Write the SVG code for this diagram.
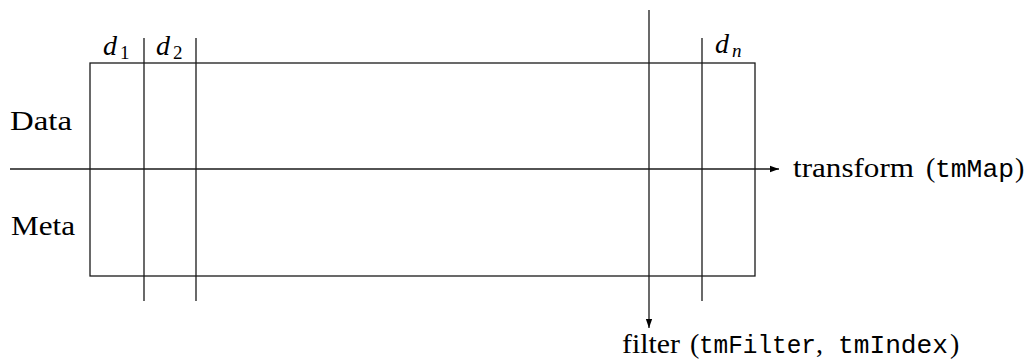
<svg xmlns="http://www.w3.org/2000/svg" width="1024" height="360" viewBox="0 0 1024 360">
<style>
.ln{stroke:#1a1a1a;stroke-width:1.3;fill:none}
.t{font-family:"Liberation Serif","DejaVu Serif",serif;font-size:28px;fill:#000}
.m{font-family:"Liberation Mono","DejaVu Sans Mono",monospace;font-size:26.5px}
.i{font-style:italic}
.s{font-size:19px}
</style>
<defs>
<marker id="ah" viewBox="0 0 10 10" refX="10" refY="5" markerWidth="9" markerHeight="9" markerUnits="userSpaceOnUse" orient="auto">
<path d="M0,1.5 L10,5 L0,8.5 Z" fill="#000"/>
</marker>
</defs>
<g id="table">
<rect class="ln" x="90" y="63" width="665" height="213"/>
<text class="t" x="10" y="130" textLength="62" lengthAdjust="spacingAndGlyphs">Data</text>
<text class="t" x="11" y="235" textLength="64" lengthAdjust="spacingAndGlyphs">Meta</text>
</g>
<g id="columns">
<line class="ln" x1="144" y1="38" x2="144" y2="301"/>
<line class="ln" x1="196" y1="38" x2="196" y2="301"/>
<line class="ln" x1="702" y1="38" x2="702" y2="301"/>
<text class="t" x="103" y="55"><tspan class="i">d</tspan><tspan class="s" x="120" dy="4">1</tspan></text>
<text class="t" x="156" y="55"><tspan class="i">d</tspan><tspan class="s" x="173" dy="4">2</tspan></text>
<text class="t" x="715" y="53"><tspan class="i">d</tspan><tspan class="s i" x="732" dy="4">n</tspan></text>
</g>
<g id="connectors">
<line class="ln" x1="10" y1="169" x2="779" y2="169" marker-end="url(#ah)"/>
<line class="ln" x1="649" y1="10" x2="649" y2="328" marker-end="url(#ah)"/>
</g>
<g id="labels">
<text class="t" x="793" y="177"><tspan x="793" textLength="121" lengthAdjust="spacingAndGlyphs">transform</tspan> <tspan x="926">(</tspan><tspan class="m" x="935" textLength="79" lengthAdjust="spacingAndGlyphs">tmMap</tspan><tspan x="1015">)</tspan></text>
<text class="t" x="622" y="353"><tspan x="622" textLength="58" lengthAdjust="spacingAndGlyphs">filter</tspan> <tspan x="690">(</tspan><tspan class="m" x="699" textLength="117" lengthAdjust="spacingAndGlyphs">tmFilter</tspan>, <tspan class="m" x="838" textLength="110" lengthAdjust="spacingAndGlyphs">tmIndex</tspan><tspan x="950">)</tspan></text>
</g>
</svg>
